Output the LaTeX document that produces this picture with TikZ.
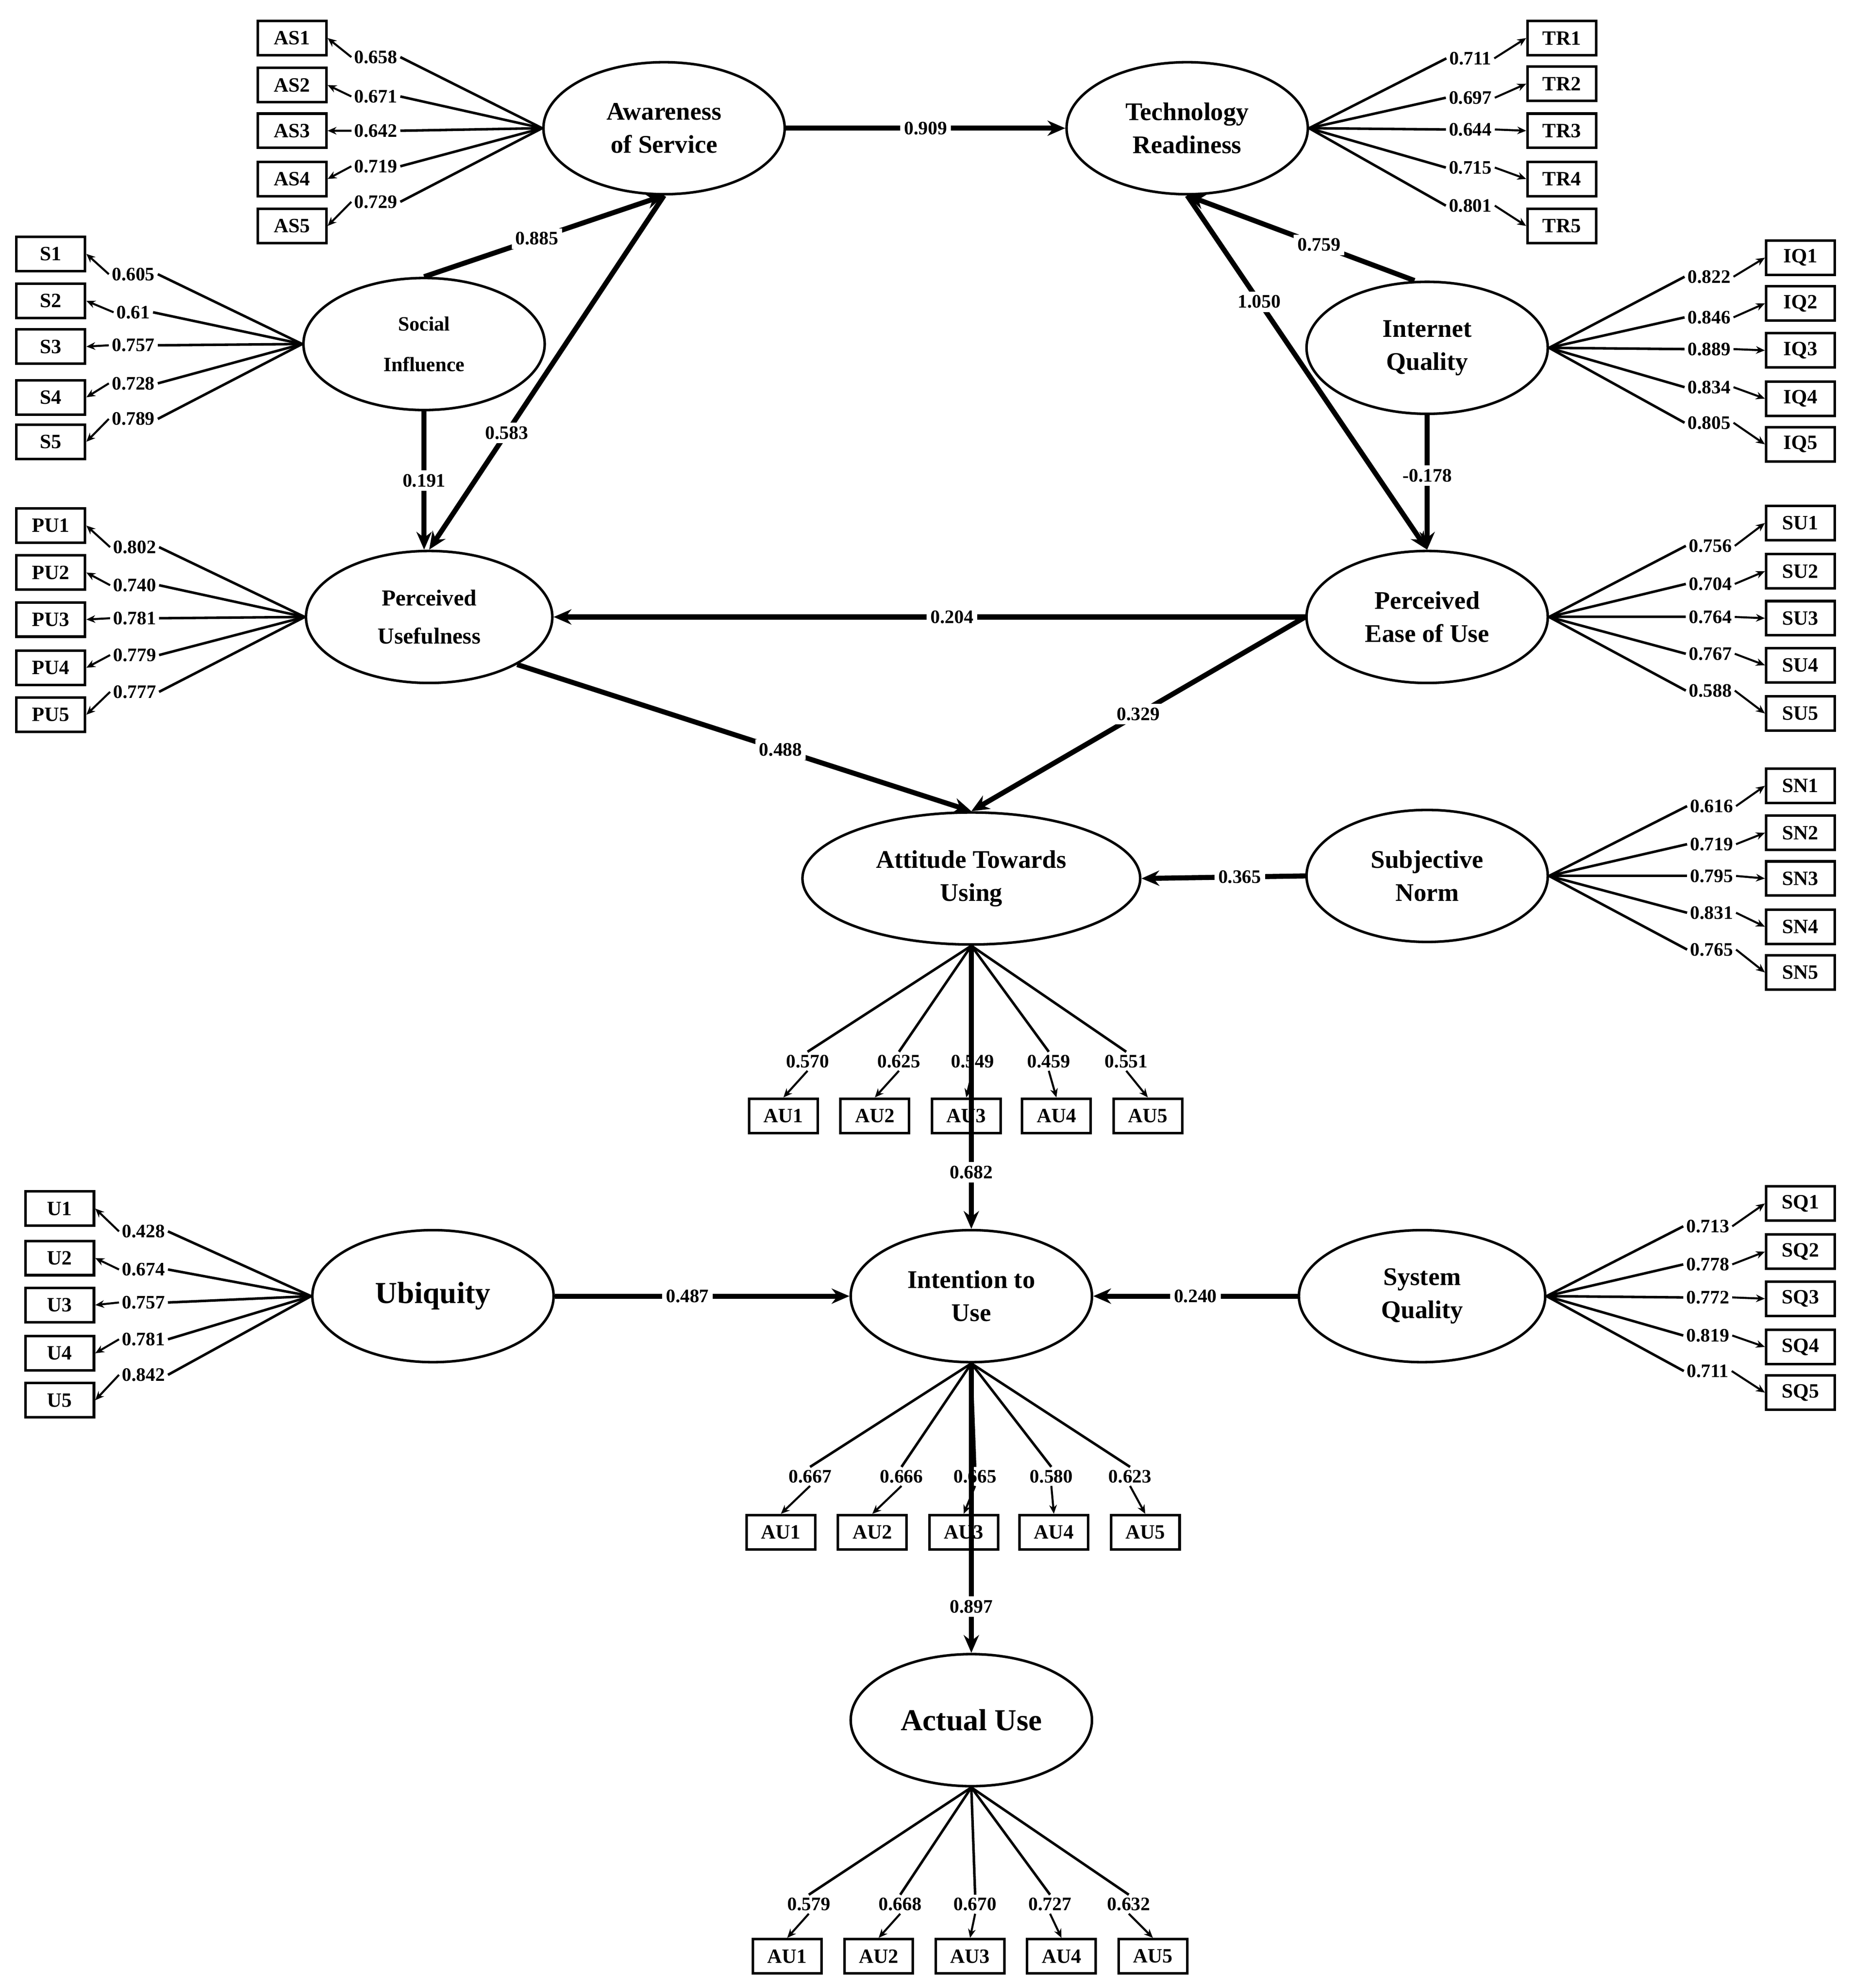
\documentclass[tikz,border=0pt]{standalone}
\usepackage{fontspec}
\setmainfont{Liberation Serif}
\usetikzlibrary{shapes.geometric,arrows.meta}
\begin{document}
\begin{tikzpicture}[x=0.5pt,y=-0.5pt,
 lat/.style={ellipse,draw,line width=1pt,minimum width=95pt,minimum height=52pt,inner sep=0pt,align=center,font=\bfseries\fontsize{10}{13}\selectfont},
 ind/.style={draw,line width=1pt,minimum width=27pt,minimum height=13.5pt,inner sep=0pt,font=\bfseries\fontsize{8}{9}\selectfont},
 ld/.style={inner sep=1pt,font=\bfseries\fontsize{7.5}{8}\selectfont},
 pl/.style={inner sep=1.5pt,fill=white,font=\bfseries\fontsize{7.5}{8}\selectfont},
 ln/.style={line width=1pt},
 la/.style={line width=0.8pt,-{Stealth[length=3.5pt,width=3pt]}},
 sa/.style={line width=2pt,-{Stealth[length=7pt,width=6pt]}}]
\useasboundingbox (0,0) rectangle (1460,1566);
% latent variables
\node[lat] (AS) at (523,101) {Awareness\\of Service};
\node[lat] (TR) at (935,101) {Technology\\Readiness};
\node[lat,font=\bfseries\fontsize{8}{16}\selectfont] (SI) at (334,271) {Social\\Influence};
\node[lat] (IQ) at (1124,274) {Internet\\Quality};
\node[lat,minimum width=97pt,font=\bfseries\fontsize{9}{15}\selectfont] (PU) at (338,486) {Perceived\\Usefulness};
\node[lat] (PE) at (1124,486) {Perceived\\Ease of Use};
\node[lat,minimum width=133pt] (AT) at (765,692) {Attitude Towards\\Using};
\node[lat] (SN) at (1124,690) {Subjective\\Norm};
\node[lat,font=\bfseries\fontsize{12}{14}\selectfont] (UB) at (341,1021) {Ubiquity};
\node[lat] (IU) at (765,1021) {Intention to\\Use};
\node[lat,minimum width=97pt] (SQ) at (1120,1021) {System\\Quality};
\node[lat,font=\bfseries\fontsize{12}{14}\selectfont] (AC) at (765,1355) {Actual Use};
% left-side indicators
\foreach \n/\bx/\lx/\el/\data in {
 AS/230/296/AS/{1/30/45/0.658,2/67/76/0.671,3/103/103/0.642,4/141/131/0.719,5/178/159/0.729},
 S/40/105/SI/{1/200/216/0.605,2/237/246/0.61,3/273/272/0.757,4/313/302/0.728,5/348/330/0.789},
 PU/40/106/PU/{1/414/431/0.802,2/451/461/0.740,3/488/487/0.781,4/526/516/0.779,5/563/545/0.777},
 U/47/113/UB/{1/952/970/0.428,2/991/1000/0.674,3/1028/1026/0.757,4/1066/1055/0.781,5/1103/1083/0.842}}{
 \foreach \i/\by/\ly/\v in \data {
  \node[ind] (\n\i) at (\bx,\by) {\n\i};
  \node[ld] (l\n\i) at (\lx,\ly) {\v};
  \draw[ln] (\el.west) -- (l\n\i.east);
  \draw[la] (l\n\i.west) -- (\n\i.east);
 }}
% right-side indicators
\foreach \n/\bx/\lx/\el/\data in {
 TR/1230/1158/TR/{1/30/46/0.711,2/66/77/0.697,3/103/102/0.644,4/141/132/0.715,5/178/162/0.801},
 IQ/1418/1346/IQ/{1/203/218/0.822,2/239/250/0.846,3/276/275/0.889,4/314/305/0.834,5/350/333/0.805},
 SU/1418/1347/PE/{1/412/430/0.756,2/450/460/0.704,3/487/486/0.764,4/524/515/0.767,5/562/544/0.588},
 SN/1418/1348/SN/{1/619/635/0.616,2/656/665/0.719,3/692/690/0.795,4/730/719/0.831,5/766/748/0.765},
 SQ/1418/1345/SQ/{1/948/966/0.713,2/986/996/0.778,3/1023/1022/0.772,4/1061/1052/0.819,5/1097/1080/0.711}}{
 \foreach \i/\by/\ly/\v in \data {
  \node[ind] (\n\i) at (\bx,\by) {\n\i};
  \node[ld] (l\n\i) at (\lx,\ly) {\v};
  \draw[ln] (\el.east) -- (l\n\i.west);
  \draw[la] (l\n\i.east) -- (\n\i.west);
 }}
% bottom indicator rows
\foreach \n/\by/\ly/\el/\data in {
 A/879/836/AT/{1/617/636/0.570,2/689/708/0.625,3/761/766/0.549,4/832/826/0.459,5/904/887/0.551},
 B/1207/1163/IU/{1/615/638/0.667,2/687/710/0.666,3/759/768/0.665,4/830/828/0.580,5/902/890/0.623},
 C/1541/1500/AC/{1/620/637/0.579,2/692/709/0.668,3/764/768/0.670,4/836/827/0.727,5/908/889/0.632}}{
 \foreach \i/\bx/\lx/\v in \data {
  \node[ind] (\n\i) at (\bx,\by) {AU\i};
  \node[ld] (l\n\i) at (\lx,\ly) {\v};
  \draw[ln] (\el.south) -- (l\n\i.north);
  \draw[la] (l\n\i.south) -- (\n\i.north);
 }}
% structural paths
\draw[sa] (AS.east) -- node[pl]{0.909} (TR.west);
\draw[sa] (SI.north) -- node[pl,pos=0.47]{0.885} (AS.south);
\draw[sa] (AS.south) -- node[pl,pos=0.67]{0.583} (PU.north);
\draw[sa] (SI.south) -- node[pl,pos=0.5]{0.191} (PU.north -| SI.south);
\draw[sa] (IQ.north) ++(-10,0) coordinate (iqn) (iqn) -- node[pl,pos=0.42]{0.759} (TR.south);
\draw[sa] (TR.south) -- node[pl,pos=0.3]{1.050} (PE.north);
\draw[sa] (IQ.south) -- node[pl,pos=0.45]{-0.178} (PE.north);
\draw[sa] (PE.west) -- node[pl,pos=0.47]{0.204} (PU.east);
\draw[sa] (PU.south east) -- node[pl,pos=0.58]{0.488} (AT.north);
\draw[sa] (PE.west) -- node[pl,pos=0.5]{0.329} (AT.north);
\draw[sa] (SN.west) -- node[pl,pos=0.4]{0.365} (AT.east);
\draw[sa] (AT.south) -- node[pl,pos=0.8]{0.682} (IU.north);
\draw[sa] (UB.east) -- node[pl,pos=0.45]{0.487} (IU.west);
\draw[sa] (SQ.west) -- node[pl,pos=0.5]{0.240} (IU.east);
\draw[sa] (IU.south) -- node[pl,pos=0.84]{0.897} (AC.north);
\end{tikzpicture}
\end{document}
